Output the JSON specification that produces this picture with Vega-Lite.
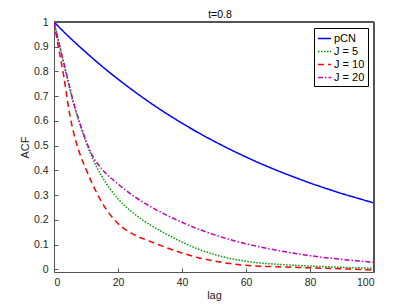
{
  "$schema": "https://vega.github.io/schema/vega-lite/v6.json",
  "width": 320,
  "height": 250,
  "autosize": "none",
  "padding": {"left": 54, "top": 22, "right": 41, "bottom": 34},
  "background": "white",
  "config": {
    "view": {"stroke": null},
    "font": "Liberation Sans",
    "axis": {"grid": false, "domainColor": "#555555", "tickColor": "#555555", "labelColor": "#262626", "titleColor": "#262626", "labelFont": "Liberation Sans", "titleFont": "Liberation Sans", "labelFontSize": 10.5, "titleFontSize": 11, "titleFontWeight": "normal", "domainWidth": 1, "tickWidth": 1},
    "legend": {"orient": "top-right", "offset": 6, "strokeColor": "#000000", "fillColor": "#ffffff", "padding": 3, "symbolType": "stroke", "symbolSize": 169, "symbolStrokeWidth": 1.5, "labelFontSize": 11, "labelFont": "Liberation Sans", "labelColor": "#000000", "labelOffset": 2, "rowPadding": 0, "cornerRadius": 0}
  },
  "title": {"text": "t=0.8", "fontSize": 10.5, "fontWeight": "normal", "color": "#000000", "font": "Liberation Sans", "offset": -3, "dx": 6},
  "data": {"values": [
    {"lag": 0, "acf": 1, "s": "pCN"},
    {"lag": 5, "acf": 0.936, "s": "pCN"},
    {"lag": 10, "acf": 0.877, "s": "pCN"},
    {"lag": 15, "acf": 0.821, "s": "pCN"},
    {"lag": 20, "acf": 0.769, "s": "pCN"},
    {"lag": 25, "acf": 0.72, "s": "pCN"},
    {"lag": 30, "acf": 0.674, "s": "pCN"},
    {"lag": 35, "acf": 0.631, "s": "pCN"},
    {"lag": 40, "acf": 0.591, "s": "pCN"},
    {"lag": 45, "acf": 0.553, "s": "pCN"},
    {"lag": 50, "acf": 0.518, "s": "pCN"},
    {"lag": 55, "acf": 0.485, "s": "pCN"},
    {"lag": 60, "acf": 0.454, "s": "pCN"},
    {"lag": 65, "acf": 0.425, "s": "pCN"},
    {"lag": 70, "acf": 0.398, "s": "pCN"},
    {"lag": 75, "acf": 0.373, "s": "pCN"},
    {"lag": 80, "acf": 0.349, "s": "pCN"},
    {"lag": 85, "acf": 0.327, "s": "pCN"},
    {"lag": 90, "acf": 0.306, "s": "pCN"},
    {"lag": 95, "acf": 0.287, "s": "pCN"},
    {"lag": 100, "acf": 0.268, "s": "pCN"},

    {"lag": 0, "acf": 1, "s": "J = 5"},
    {"lag": 2, "acf": 0.89, "s": "J = 5"},
    {"lag": 4, "acf": 0.78, "s": "J = 5"},
    {"lag": 6, "acf": 0.675, "s": "J = 5"},
    {"lag": 8, "acf": 0.59, "s": "J = 5"},
    {"lag": 10, "acf": 0.515, "s": "J = 5"},
    {"lag": 12, "acf": 0.45, "s": "J = 5"},
    {"lag": 15, "acf": 0.375, "s": "J = 5"},
    {"lag": 20, "acf": 0.285, "s": "J = 5"},
    {"lag": 25, "acf": 0.225, "s": "J = 5"},
    {"lag": 30, "acf": 0.18, "s": "J = 5"},
    {"lag": 35, "acf": 0.143, "s": "J = 5"},
    {"lag": 40, "acf": 0.11, "s": "J = 5"},
    {"lag": 45, "acf": 0.082, "s": "J = 5"},
    {"lag": 50, "acf": 0.06, "s": "J = 5"},
    {"lag": 55, "acf": 0.044, "s": "J = 5"},
    {"lag": 60, "acf": 0.032, "s": "J = 5"},
    {"lag": 70, "acf": 0.02, "s": "J = 5"},
    {"lag": 80, "acf": 0.013, "s": "J = 5"},
    {"lag": 90, "acf": 0.008, "s": "J = 5"},
    {"lag": 100, "acf": 0.004, "s": "J = 5"},

    {"lag": 0, "acf": 1, "s": "J = 10"},
    {"lag": 1, "acf": 0.925, "s": "J = 10"},
    {"lag": 2, "acf": 0.855, "s": "J = 10"},
    {"lag": 3, "acf": 0.785, "s": "J = 10"},
    {"lag": 4, "acf": 0.70, "s": "J = 10"},
    {"lag": 5, "acf": 0.62, "s": "J = 10"},
    {"lag": 6, "acf": 0.56, "s": "J = 10"},
    {"lag": 8, "acf": 0.47, "s": "J = 10"},
    {"lag": 10, "acf": 0.405, "s": "J = 10"},
    {"lag": 12, "acf": 0.345, "s": "J = 10"},
    {"lag": 15, "acf": 0.27, "s": "J = 10"},
    {"lag": 20, "acf": 0.185, "s": "J = 10"},
    {"lag": 25, "acf": 0.14, "s": "J = 10"},
    {"lag": 30, "acf": 0.113, "s": "J = 10"},
    {"lag": 35, "acf": 0.088, "s": "J = 10"},
    {"lag": 40, "acf": 0.066, "s": "J = 10"},
    {"lag": 45, "acf": 0.047, "s": "J = 10"},
    {"lag": 50, "acf": 0.034, "s": "J = 10"},
    {"lag": 55, "acf": 0.023, "s": "J = 10"},
    {"lag": 60, "acf": 0.016, "s": "J = 10"},
    {"lag": 70, "acf": 0.01, "s": "J = 10"},
    {"lag": 80, "acf": 0.006, "s": "J = 10"},
    {"lag": 90, "acf": 0.002, "s": "J = 10"},
    {"lag": 100, "acf": -0.003, "s": "J = 10"},

    {"lag": 0, "acf": 1, "s": "J = 20"},
    {"lag": 2, "acf": 0.89, "s": "J = 20"},
    {"lag": 4, "acf": 0.785, "s": "J = 20"},
    {"lag": 6, "acf": 0.68, "s": "J = 20"},
    {"lag": 8, "acf": 0.595, "s": "J = 20"},
    {"lag": 10, "acf": 0.52, "s": "J = 20"},
    {"lag": 12, "acf": 0.46, "s": "J = 20"},
    {"lag": 15, "acf": 0.405, "s": "J = 20"},
    {"lag": 20, "acf": 0.345, "s": "J = 20"},
    {"lag": 25, "acf": 0.295, "s": "J = 20"},
    {"lag": 30, "acf": 0.255, "s": "J = 20"},
    {"lag": 35, "acf": 0.22, "s": "J = 20"},
    {"lag": 40, "acf": 0.19, "s": "J = 20"},
    {"lag": 45, "acf": 0.163, "s": "J = 20"},
    {"lag": 50, "acf": 0.14, "s": "J = 20"},
    {"lag": 55, "acf": 0.12, "s": "J = 20"},
    {"lag": 60, "acf": 0.103, "s": "J = 20"},
    {"lag": 70, "acf": 0.076, "s": "J = 20"},
    {"lag": 80, "acf": 0.055, "s": "J = 20"},
    {"lag": 90, "acf": 0.04, "s": "J = 20"},
    {"lag": 100, "acf": 0.028, "s": "J = 20"}
  ]},
  "encoding": {
    "x": {"field": "lag", "type": "quantitative", "scale": {"domain": [0, 100], "nice": false}, "axis": {"title": "lag", "values": [0, 20, 40, 60, 80, 100], "tickSize": -4, "labelPadding": 9, "titlePadding": 2}},
    "y": {"field": "acf", "type": "quantitative", "scale": {"domain": [-0.011, 1], "nice": false, "zero": false}, "axis": {"title": "ACF", "values": [0, 0.1, 0.2, 0.3, 0.4, 0.5, 0.6, 0.7, 0.8, 0.9, 1], "format": "~g", "tickSize": -4, "labelPadding": 10, "titleX": -24, "titleY": 125, "titleBaseline": "bottom", "titleAlign": "center"}}
  },
  "layer": [
    {
      "mark": {"type": "line", "strokeWidth": 1.5, "interpolate": "monotone", "clip": true},
      "encoding": {
        "color": {"field": "s", "type": "nominal", "scale": {"domain": ["pCN", "J = 5", "J = 10", "J = 20"], "range": ["#0000ff", "#009900", "#ff0000", "#bf00bf"]}, "legend": {"title": null}},
        "strokeDash": {"field": "s", "type": "nominal", "scale": {"domain": ["pCN", "J = 5", "J = 10", "J = 20"], "range": [[1, 0], [1.5, 1.5], [6, 4], [5, 2, 1.5, 2]]}, "legend": {"title": null}}
      }
    },
    {
      "mark": {"type": "rule", "color": "#555555", "strokeWidth": 1},
      "encoding": {"x": {"datum": 100}, "y": null}
    },
    {
      "mark": {"type": "rule", "color": "#555555", "strokeWidth": 1},
      "encoding": {"y": {"datum": 1}, "x": null}
    }
  ]
}
